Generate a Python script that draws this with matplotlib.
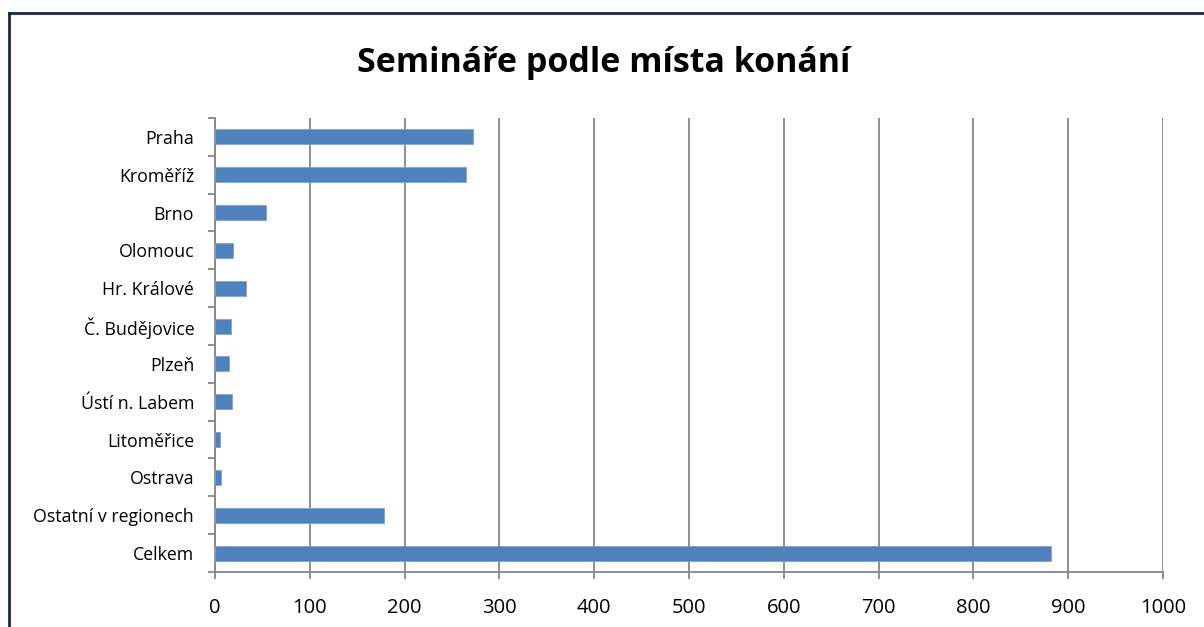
import numpy as np
from matplotlib import pyplot as plt
from matplotlib.lines import Line2D

# data
mista = ["Praha", "Kroměříž", "Brno", "Olomouc", "Hr. Králové", "Č. Budějovice",
         "Plzeň", "Ústí n. Labem", "Litoměřice", "Ostrava", "Ostatní v regionech", "Celkem"]
pocty = [272, 265, 54, 19, 33, 17, 15, 18, 5, 6, 178, 882]
xticks = [0, 100, 200, 300, 400, 500, 600, 700, 800, 900, 1000]

plt.rcParams['font.family'] = ['Open Sans', 'DejaVu Sans']

fig = plt.figure(figsize=(12.04, 6.27), dpi=100)
W, H = 1204, 627
ax = fig.add_axes([215 / W, 1 - 572 / H, (1163 - 215) / W, (572 - 118) / H])

y = np.arange(len(mista))
ax.barh(y, pocty, height=0.4, color='#4F81BD', edgecolor='#7FA3D6', linewidth=0.6, zorder=3)
ax.set_ylim(len(mista) - 0.5, -0.5)
ax.set_xlim(0, 1000)
ax.set_xticks(xticks)
ax.set_xticklabels([str(v) for v in xticks], fontsize=14.5)
ax.set_yticks(y)
ax.set_yticklabels(mista, fontsize=12.8)
ax.set_yticks(np.arange(len(mista) + 1) - 0.5, minor=True)
ax.tick_params(axis='y', which='major', length=0, pad=15)
ax.tick_params(axis='y', which='minor', length=5, color='#868686', width=1.3)
ax.tick_params(axis='x', length=5, color='#868686', width=1.3, pad=14)
ax.grid(axis='x', color='#868686', linewidth=1.3, zorder=0)
for s in ['top', 'right']:
    ax.spines[s].set_visible(False)
for s in ['left', 'bottom']:
    ax.spines[s].set_color('#868686')
    ax.spines[s].set_linewidth(1.3)

fig.text(604 / W, 1 - 63 / H, "Semináře podle místa konání", ha='center', va='center',
         fontsize=24.5, fontweight='bold')

# ramecek grafu
fig.add_artist(Line2D([9 / W, 9 / W], [0, 1 - 13 / H], transform=fig.transFigure,
                      color='#17294A', linewidth=2))
fig.add_artist(Line2D([9 / W, 1], [1 - 13 / H, 1 - 13 / H], transform=fig.transFigure,
                      color='#17294A', linewidth=2))

plt.savefig('out.png', dpi=100)
